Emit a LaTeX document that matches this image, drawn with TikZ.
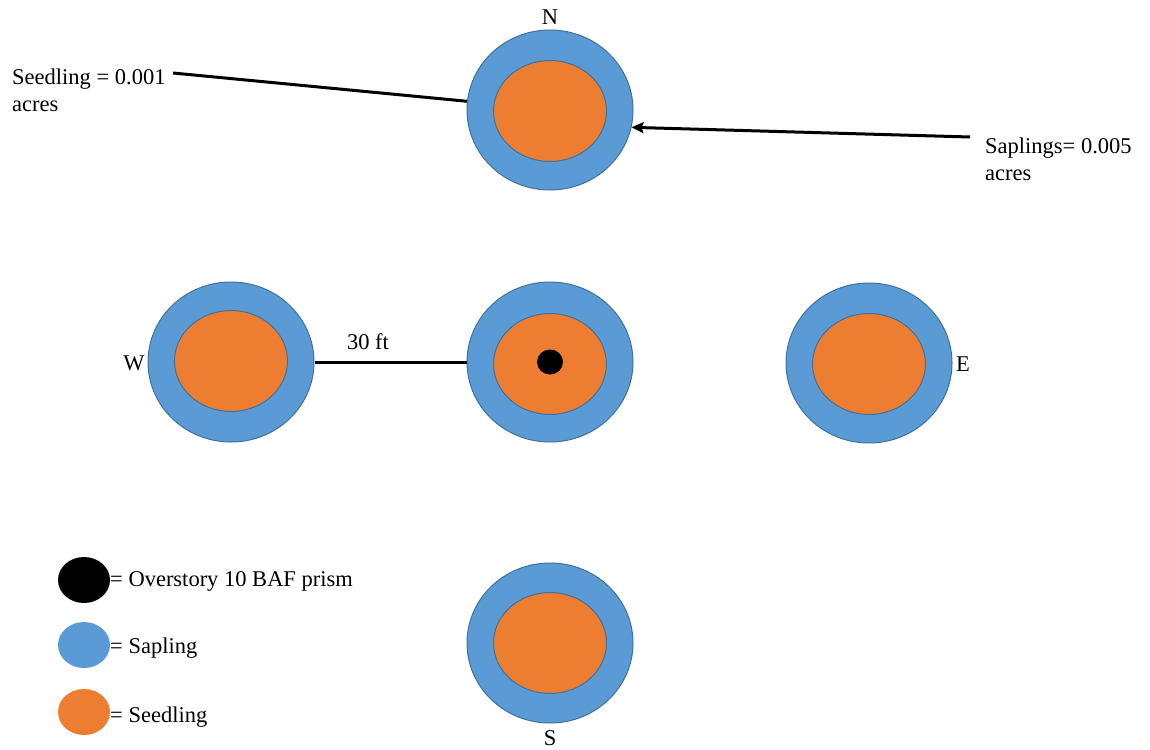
\documentclass[tikz,border=0pt]{standalone}
\usepackage{fontspec}
\setmainfont{Liberation Serif}
\usetikzlibrary{shapes.geometric,arrows.meta}
\definecolor{sapblue}{HTML}{5B9BD5}
\definecolor{seedorange}{HTML}{ED7D31}
\definecolor{rimblue}{HTML}{41719C}
\begin{document}
\begin{tikzpicture}[x=1pt,y=-1pt,
  every node/.style={font=\fontsize{22.5}{27}\selectfont, inner sep=0pt},
  outerring/.style={ellipse, draw=rimblue, line width=1pt, fill=sapblue, minimum width=166pt, minimum height=160pt},
  innerring/.style={ellipse, draw=rimblue, line width=1pt, fill=seedorange, minimum width=113pt, minimum height=101pt},
  prismdot/.style={ellipse, fill=black, minimum width=26pt, minimum height=25pt},
  legendmark/.style={ellipse, minimum width=52pt, minimum height=46pt},
  thickline/.style={line width=3pt, black}
]
\useasboundingbox (0,0) rectangle (1150,749);

% plots
\node[outerring] (Nout) at (550,110) {};
\node[innerring] (Nin) at (550,111) {};
\node[outerring] (Wout) at (231,362) {};
\node[innerring] (Win) at (231,361) {};
\node[outerring] (Cout) at (550,362) {};
\node[innerring] (Cin) at (550,364) {};
\node[prismdot] (Cdot) at (550,362) {};
\node[outerring] (Eout) at (869,363) {};
\node[innerring] (Ein) at (869,364) {};
\node[outerring] (Sout) at (550,643) {};
\node[innerring] (Sin) at (550,643) {};

% direction labels
\node[anchor=base] (Nlab) at (550,25) {N};
\node[anchor=base] (Wlab) at (134,370) {W};
\node[anchor=base] (Elab) at (963,371) {E};
\node[anchor=base] (Slab) at (550,745) {S};

% distance
\draw[thickline] (Wout.east) -- (Cout.west);
\node[anchor=base] (dist) at (368,349) {30 ft};

% annotations
\node[anchor=north west, align=left] (seedtxt) at (12,69) {Seedling = 0.001\\acres};
\coordinate (seedend) at (173,73);
\draw[thickline] (seedend) -- (Nout.174);
\node[anchor=north west, align=left] (saptxt) at (985,138) {Saplings= 0.005\\acres};
\coordinate (sapend) at (970,137);
\draw[thickline, -{Stealth[length=12pt,width=11pt,inset=2pt]}] (sapend) -- (Nout.-12);

% legend
\node[legendmark, fill=black] (lgblack) at (84,580) {};
\node[legendmark, fill=sapblue] (lgblue) at (84,645) {};
\node[legendmark, fill=seedorange] (lgorange) at (84,712) {};
\node[anchor=base west] (lgt1) at (110,586) {= Overstory 10 BAF prism};
\node[anchor=base west] (lgt2) at (110,653) {= Sapling};
\node[anchor=base west] (lgt3) at (110,722) {= Seedling};
\end{tikzpicture}
\end{document}
